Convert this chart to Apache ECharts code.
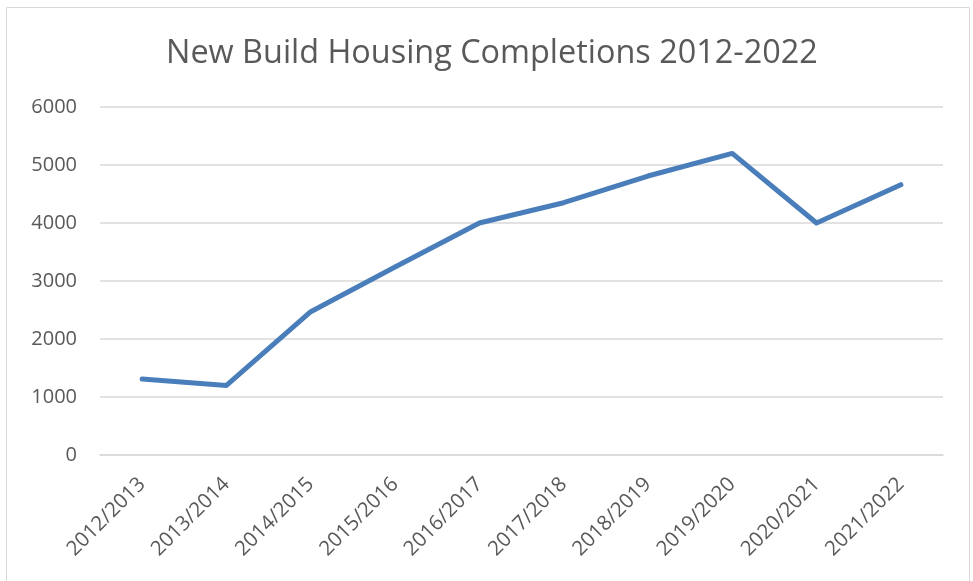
<!DOCTYPE html>
<html><head><meta charset="utf-8">
<script src="https://cdn.jsdelivr.net/npm/echarts@6/dist/echarts.min.js"></script>
<style>html,body{margin:0;padding:0;background:#fff}#c{width:973px;height:581px}</style>
</head><body><div id="c"></div>
<script>
const categories = ["2012/2013","2013/2014","2014/2015","2015/2016","2016/2017","2017/2018","2018/2019","2019/2020","2020/2021","2021/2022"];
const completions = [1310, 1200, 2470, 3240, 4000, 4350, 4810, 5200, 4000, 4660];
const yTicks = [0, 1000, 2000, 3000, 4000, 5000, 6000];
const titleText = "New Build Housing Completions 2012-2022";

const chart = echarts.init(document.getElementById('c'), null, {renderer:'canvas'});
chart.setOption({
  backgroundColor: '#fff',
  animation: false,
  graphic: [{type:'rect', shape:{x:6.5,y:7.5,width:963,height:590}, style:{fill:'none', stroke:'#d9d9d9', lineWidth:1}, silent:true}],
  title: {text: titleText, left: 161, top: 33,
    textStyle:{fontFamily:'"Open Sans",sans-serif', fontSize:32.4, fontWeight:'normal', color:'#595959'}},
  grid: {left:100, right:30, top:107, bottom:126},
  xAxis: {type:'category', data: categories, boundaryGap:true,
    axisLine:{lineStyle:{color:'#d9d9d9', width:1.5}}, axisTick:{show:false},
    axisLabel:{rotate:45, interval:0, margin:26, color:'#595959', fontSize:20.5, fontFamily:'"Open Sans",sans-serif'}},
  yAxis: {type:'value', min: yTicks[0], max: yTicks[yTicks.length-1], interval:1000,
    axisLine:{show:false}, axisTick:{show:false},
    splitLine:{lineStyle:{color:'#d9d9d9', width:1.5}},
    axisLabel:{color:'#595959', fontSize:20, margin:23, fontFamily:'"Open Sans",sans-serif', formatter: v => String(v)}},
  series: [{type:'line', data: completions, symbol:'none', lineStyle:{color:'#4a7ebb', width:5, cap:'round', join:'round'}}]
});
</script></body></html>
